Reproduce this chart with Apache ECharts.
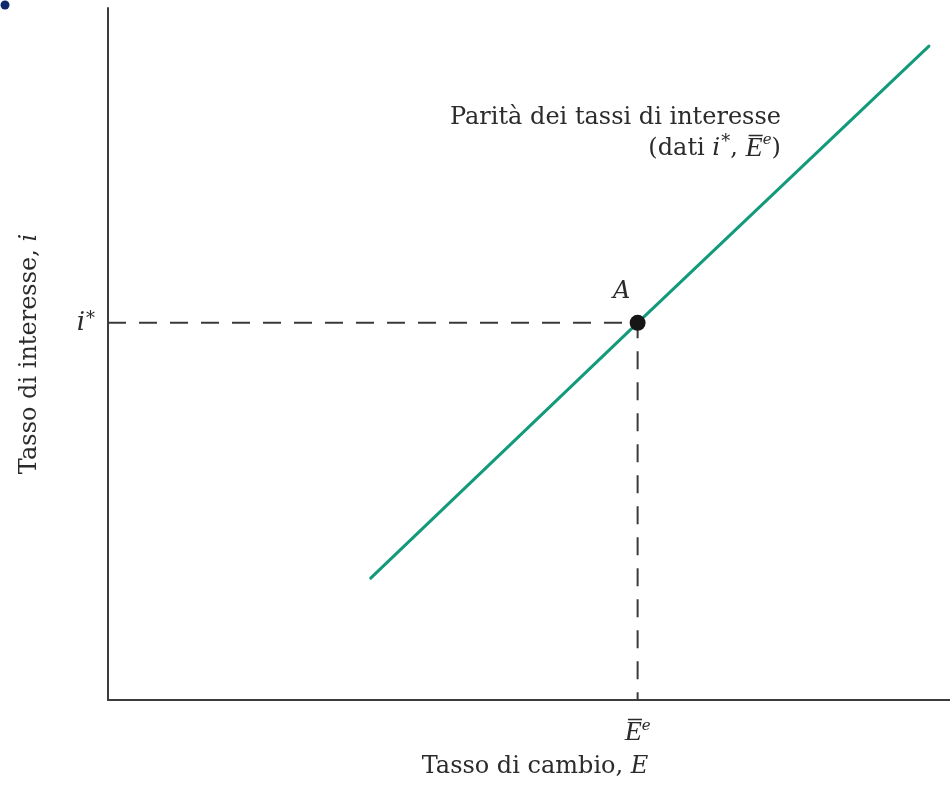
<!DOCTYPE html>
<html>
<head>
<meta charset="utf-8">
<script src="https://cdn.jsdelivr.net/npm/echarts@6/dist/echarts.min.js"></script>
<style>
  html, body { margin: 0; padding: 0; background: #ffffff; }
  #chart { width: 950px; height: 788px; }
</style>
</head>
<body>
<div id="chart"></div>
<script>
// Interest parity schedule: exchange rate E (x) against interest rate i (y)
const curveE = [31.2, 62.9, 97.5];
const curveI = [17.6, 54.5, 94.5];
const pointA = { E: 62.9, i: 54.5, name: 'A' };
const axisRangeE = [0, 100];
const axisRangeI = [0, 100];

const SERIF = '"DejaVu Serif", "Liberation Serif", serif';
const SERIF_OV = '"Liberation Serif", serif';
const INK = '#2b2b2b';
const TEAL = '#139a7b';
const FS = 24;

const richMarks = {
  it: { fontFamily: SERIF, fontStyle: 'italic', fontSize: FS, color: INK },
  ib: { fontFamily: SERIF, fontStyle: 'italic', fontSize: 26, color: INK },
  ov: { fontFamily: SERIF_OV, fontStyle: 'italic', fontSize: 28, color: INK },
  star: { fontFamily: SERIF, fontSize: 18, color: INK, verticalAlign: 'top', padding: [0, 0, 8, 1] },
  sup: { fontFamily: SERIF, fontStyle: 'italic', fontSize: 15, color: INK, verticalAlign: 'top', padding: [0, 0, 10, 0] }
};

const chart = echarts.init(document.getElementById('chart'), null, { renderer: 'canvas' });

chart.setOption({
  animation: false,
  backgroundColor: '#ffffff',
  grid: { left: 108, right: 0, top: 8, bottom: 88, containLabel: false, outerBoundsMode: 'none' },
  graphic: [
    { type: 'circle', shape: { cx: 5, cy: 5, r: 4.5 }, style: { fill: '#0c2a6c' } }
  ],
  xAxis: {
    type: 'value',
    min: axisRangeE[0],
    max: axisRangeE[1],
    splitLine: { show: false },
    axisTick: { show: false },
    axisLine: { lineStyle: { color: '#3c3c3c', width: 2 } },
    axisLabel: {
      customValues: [pointA.E],
      margin: 19,
      formatter: () => '{ov|E\u0305}{sup|e}',
      rich: richMarks
    },
    name: 'Tasso di cambio, {it|E}',
    nameLocation: 'middle',
    nameGap: 55,
    nameTextStyle: {
      fontFamily: SERIF, fontSize: FS, color: INK,
      padding: [0, 0, 0, 12],
      rich: richMarks
    }
  },
  yAxis: {
    type: 'value',
    min: axisRangeI[0],
    max: axisRangeI[1],
    splitLine: { show: false },
    axisTick: { show: false },
    axisLine: { lineStyle: { color: '#3c3c3c', width: 2 } },
    axisLabel: {
      customValues: [pointA.i],
      margin: 13,
      formatter: () => '{ib|i}{star|*}',
      rich: richMarks
    },
    name: 'Tasso di interesse, {it|i}',
    nameLocation: 'middle',
    nameGap: 66,
    nameTextStyle: {
      fontFamily: SERIF, fontSize: FS, color: INK,
      rich: richMarks
    }
  },
  series: [
    {
      // dashed guides from A to both axes
      type: 'line',
      data: [[axisRangeE[0], pointA.i], [pointA.E, pointA.i], [pointA.E, axisRangeI[0]]],
      showSymbol: false,
      silent: true,
      lineStyle: { color: '#3a3a3a', width: 2, type: [18, 13] },
      z: 1
    },
    {
      // interest parity line
      type: 'line',
      data: curveE.map((e, k) => [e, curveI[k]]),
      showSymbol: false,
      lineStyle: { color: TEAL, width: 3, cap: 'round' },
      z: 2,
      markPoint: {
        symbolSize: 0,
        data: [{
          coord: [curveE[curveE.length - 1], curveI[curveI.length - 1]],
          label: {
            show: true,
            position: 'left',
            distance: 5,
            offset: [-143, 87],
            align: 'right',
            lineHeight: 31,
            fontFamily: SERIF,
            fontSize: FS,
            color: INK,
            formatter: 'Parità dei tassi di interesse\n(dati {it|i}{star|*}, {ov|E\u0305}{sup|e})',
            rich: {
              it: { fontFamily: SERIF, fontStyle: 'italic', fontSize: 25, color: INK, lineHeight: 31 },
              ov: { fontFamily: SERIF_OV, fontStyle: 'italic', fontSize: 28, color: INK, lineHeight: 31 },
              star: { fontFamily: SERIF, fontSize: 18, color: INK, verticalAlign: 'top', lineHeight: 31, padding: [0, 0, 6, 1] },
              sup: { fontFamily: SERIF, fontStyle: 'italic', fontSize: 15, color: INK, verticalAlign: 'top', lineHeight: 31, padding: [0, 0, 10, 0] }
            }
          }
        }]
      }
    },
    {
      // equilibrium point A
      type: 'scatter',
      data: [[pointA.E, pointA.i]],
      symbolSize: 16,
      itemStyle: { color: '#161616', opacity: 1 },
      z: 3,
      label: {
        show: true,
        formatter: pointA.name,
        position: 'top',
        offset: [-16, -6],
        fontFamily: SERIF,
        fontStyle: 'italic',
        fontSize: 24,
        color: INK
      }
    }
  ]
});
</script>
</body>
</html>
